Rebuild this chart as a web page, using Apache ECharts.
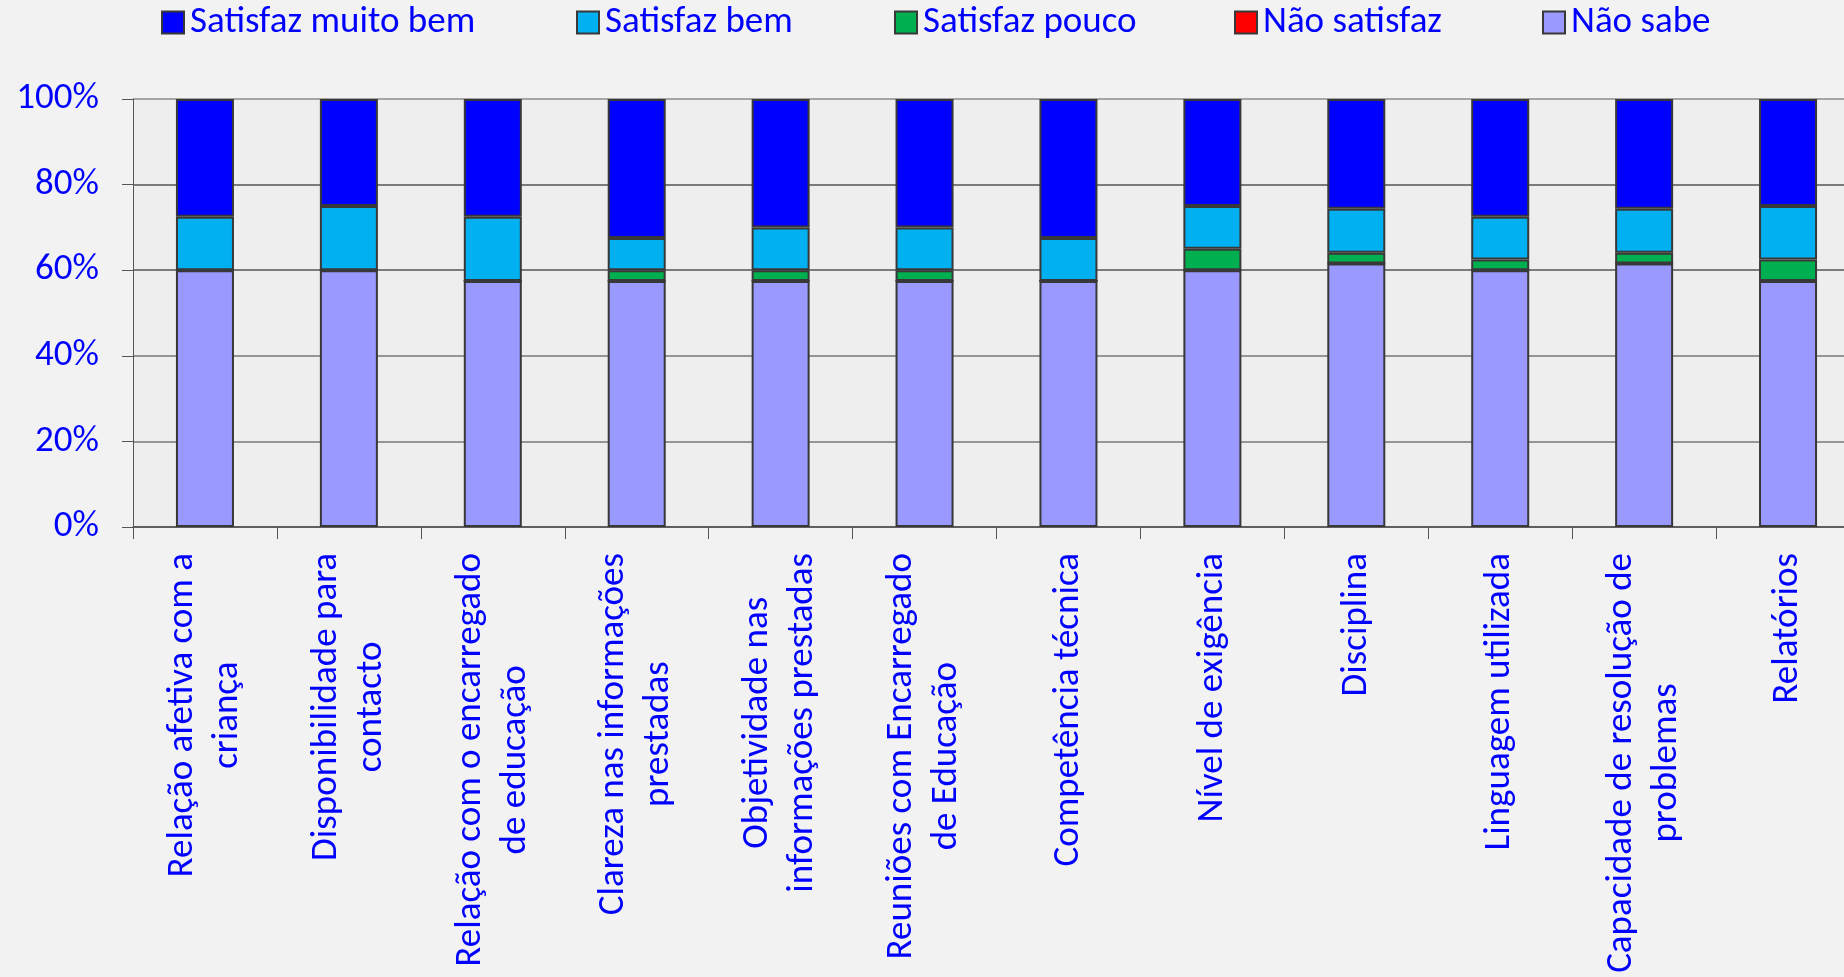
<!DOCTYPE html>
<html><head><meta charset="utf-8">
<script src="https://cdn.jsdelivr.net/npm/echarts@6/dist/echarts.min.js"></script>
<style>html,body{margin:0;padding:0;background:#f2f2f2;}#c{width:1844px;height:977px;}</style>
</head><body><div id="c"></div>
<script>
// ---- data ----
var categories = [
  'Relação afetiva com a\ncriança',
  'Disponibilidade para\ncontacto',
  'Relação com o encarregado\nde educação',
  'Clareza nas informações\nprestadas',
  'Objetividade nas\ninformações prestadas',
  'Reuniões com Encarregado\nde Educação',
  'Competência técnica',
  'Nível de exigência',
  'Disciplina',
  'Linguagem utilizada',
  'Capacidade de resolução de\nproblemas',
  'Relatórios'
];
var naoSabe       = [60, 60, 57.5, 57.5, 57.5, 57.5, 57.5, 60, 61.54, 60, 61.54, 57.5];
var naoSatisfaz   = [0, 0, 0, 0, 0, 0, 0, 0, 0, 0, 0, 0];
var satisfazPouco = [0, 0, 0, 2.5, 2.5, 2.5, 0, 5, 2.56, 2.5, 2.56, 5];
var satisfazBem   = [12.5, 15, 15, 7.5, 10, 10, 10, 10, 10.26, 10, 10.26, 12.5];
var satisfazMuitoBem = [27.5, 25, 27.5, 32.5, 30, 30, 32.5, 25, 25.64, 27.5, 25.64, 25];
var yTicks = [0, 20, 40, 60, 80, 100];

var FONT = 'Carlito, "Liberation Sans Narrow", sans-serif';
var BLUE = '#0000ff';
var BORDER = '#383838';

function mk(name, data, color) {
  return {
    name: name, type: 'bar', stack: 'total', data: data, barWidth: 58,
    itemStyle: { color: color, borderColor: BORDER, borderWidth: 2 },
    emphasis: { disabled: true }
  };
}
var series = [
  mk('Não sabe', naoSabe, '#9999ff'),
  mk('Não satisfaz', naoSatisfaz, '#ff0000'),
  mk('Satisfaz pouco', satisfazPouco, '#00b050'),
  mk('Satisfaz bem', satisfazBem, '#00b0f0'),
  mk('Satisfaz muito bem', satisfazMuitoBem, '#0000ff')
];
var legendNames = ['Satisfaz muito bem', 'Satisfaz bem', 'Satisfaz pouco', 'Não satisfaz', 'Não sabe'];
var legendLeft = [161, 576, 894, 1234, 1542];
var legends = legendNames.map(function (n, i) {
  return {
    data: [n], left: legendLeft[i], top: 4, padding: 0,
    itemWidth: 22, itemHeight: 22, itemGap: 0,
    icon: 'rect',
    textStyle: { color: BLUE, fontFamily: FONT, fontSize: 37, lineHeight: 37, padding: [0, 0, 0, 1] },
    selectedMode: false
  };
});

var chart = echarts.init(document.getElementById('c'));
chart.setOption({
  backgroundColor: '#f2f2f2',
  animation: false,
  legend: legends,
  grid: { left: 133, top: 99, bottom: 450, right: -16, outerBoundsMode: 'none', show: true, backgroundColor: '#eeeeee', borderWidth: 0, containLabel: false },
  xAxis: {
    type: 'category', data: categories,
    axisLine: { lineStyle: { color: '#555', width: 1.5 } },
    axisTick: { show: true, length: 12, lineStyle: { color: '#555', width: 1 } },
    axisLabel: {
      rotate: 90, interval: 0, margin: 26, color: BLUE,
      formatter: function (v) { return v.split('\n').map(function (s) { return '{a|' + s + '}'; }).join('\n'); },
      rich: { a: { fontFamily: FONT, fontSize: 37, lineHeight: 45, color: BLUE, align: 'center' } }
    },
    splitLine: { show: false }
  },
  yAxis: {
    type: 'value', min: 0, max: 100, interval: 20,
    axisLine: { show: true, lineStyle: { color: '#555', width: 1 } },
    axisTick: { show: true, length: 11, lineStyle: { color: '#555' } },
    axisLabel: { margin: 34, color: BLUE, fontFamily: FONT, fontSize: 37, formatter: '{value}%' },
    splitLine: { show: true, lineStyle: { color: ['#555', '#777', '#777', '#555', '#555', '#8c8c8c'], width: 1.5 } }
  },
  series: series
});
</script></body></html>
